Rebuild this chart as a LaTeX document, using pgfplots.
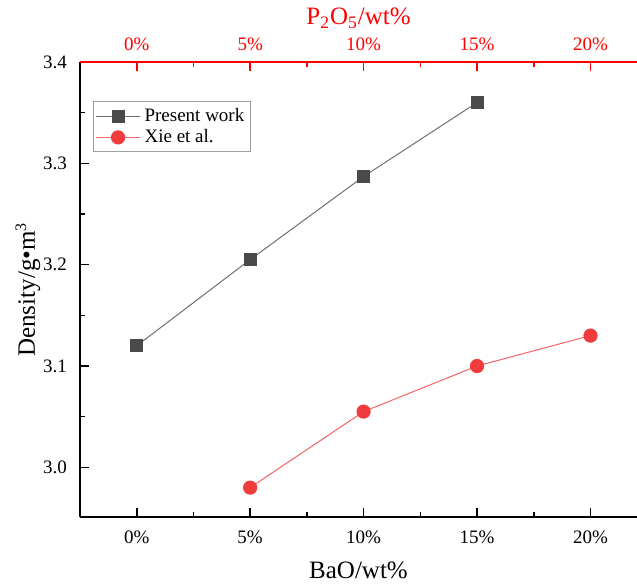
\documentclass[border=0pt]{standalone}
\usepackage{fontspec}
\setmainfont{Liberation Serif}
\usepackage{pgfplots}
\pgfplotsset{compat=1.18}
\definecolor{sqgray}{HTML}{4A4A4A}
\definecolor{lngray}{HTML}{6E6E6E}
\definecolor{ored}{HTML}{F03C3C}
\definecolor{axred}{HTML}{FF0000}

\newcommand{\tickfont}{\fontsize{9.5}{11}\selectfont}
\newcommand{\labfont}{\fontsize{12.5}{14}\selectfont}

\begin{document}
\begin{tikzpicture}
\pgfplotsset{
  common/.style={
    scale only axis, width=278.5pt, height=227.5pt,
    xmin=-2.5, xmax=22.05, ymin=2.951, ymax=3.4,
    tick align=inside, major tick length=4.5pt, minor tick length=2.5pt,
    xtick={0,5,10,15,20}, xticklabels={0\%,5\%,10\%,15\%,20\%},
    minor xtick={2.5,7.5,12.5,17.5},
    ticklabel style={font=\tickfont},
    clip=false,
  }
}
\begin{axis}[common, name=main,
  axis x line*=bottom, axis y line*=left,
  axis line style={line width=0.9pt,-},
  every tick/.style={black, line width=0.8pt},
  ytick={3.0,3.1,3.2,3.3,3.4}, minor ytick={3.05,3.15,3.25,3.35},
  yticklabel style={/pgf/number format/fixed, /pgf/number format/fixed zerofill,
    /pgf/number format/precision=1, /pgf/number format/assume math mode=true,
    xshift=-3pt},
  xticklabel style={yshift=-3.5pt},
  xlabel={BaO/wt\%}, ylabel={Density/g\textbullet m\textsuperscript{\fontsize{8}{9}\selectfont 3}},
  xlabel style={font=\labfont, at={(axis description cs:0.5,-0.1165)}, anchor=center},
  ylabel style={font=\labfont, at={(axis description cs:-0.0934,0.5)}, anchor=center},
  legend style={at={(axis description cs:0.0233,0.914)}, anchor=north west,
    draw=gray!75, line width=0.6pt, font=\tickfont, row sep=-1.5pt,
    inner xsep=1pt, inner ysep=1.2pt},
  legend cell align=left,
  legend image code/.code={
    \draw[mark repeat=2, mark phase=2] plot coordinates {(0pt,0pt) (11pt,0pt) (22pt,0pt)};
  },
]
\addplot[lngray, line width=0.5pt, mark=square*, mark size=3pt,
  mark options={fill=sqgray, draw=sqgray, solid}]
  coordinates {(0,3.120) (5,3.205) (10,3.287) (15,3.360)};
\addlegendentry{Present work}
\addplot[ored!80, line width=0.5pt, mark=*, mark size=3.3pt,
  mark options={fill=ored, draw=ored, solid}]
  coordinates {(5,2.980) (10,3.055) (15,3.100) (20,3.130)};
\addlegendentry{Xie et al.}
\end{axis}
\begin{axis}[common,
  axis x line*=top, axis y line=none,
  axis line style={axred, line width=0.9pt,-},
  every tick/.style={axred, line width=0.8pt},
  xticklabel style={axred, yshift=2pt},
  ytick=\empty,
  xlabel={P\textsubscript{2}O\textsubscript{5}/wt\%},
  xlabel style={font=\labfont, axred, at={(axis description cs:0.5,1.0967)}, anchor=center},
]
\addplot[draw=none] coordinates {(0,3.0)};
\end{axis}
\pgfresetboundingbox
\path[use as bounding box] ([shift={(-40pt,-33.5pt)}]main.south west) rectangle ([shift={(0pt,31pt)}]main.north east);
\end{tikzpicture}
\end{document}
